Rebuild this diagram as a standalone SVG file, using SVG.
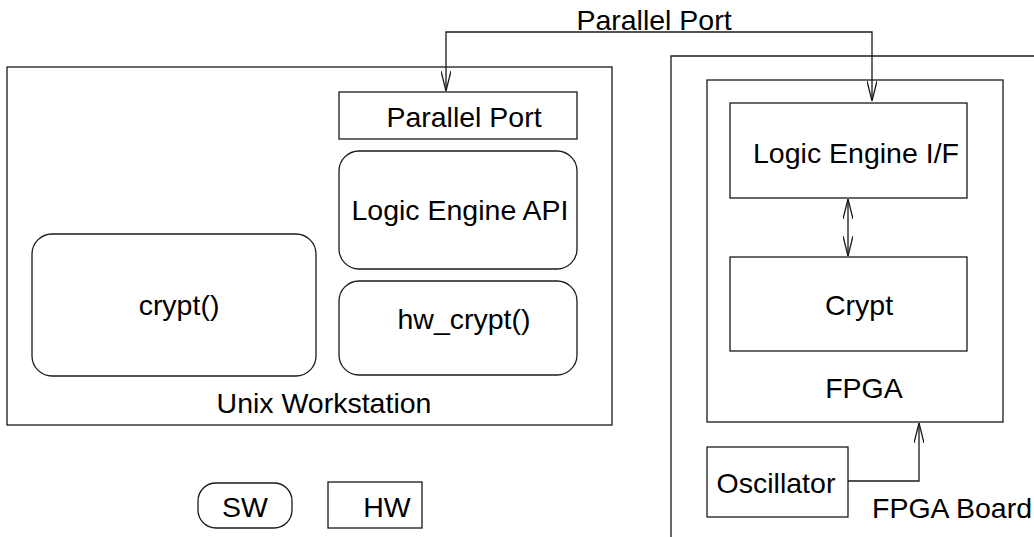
<svg xmlns="http://www.w3.org/2000/svg" width="1034" height="537" viewBox="0 0 1034 537">
  <style>
    .box { fill: none; stroke: #1a1a1a; stroke-width: 1.3; }
    .wire { fill: none; stroke: #1a1a1a; stroke-width: 1.3; }
    .lbl { font-family: "Liberation Sans", Arial, sans-serif; font-size: 28.5px; fill: #000; text-anchor: middle; }
  </style>
  <defs>
    <marker id="vhead" viewBox="0 0 20 10" markerWidth="20" markerHeight="10" refX="20" refY="5" orient="auto-start-reverse" markerUnits="userSpaceOnUse">
      <path d="M0,0 L20,5 L0,10" fill="none" stroke="#1a1a1a" stroke-width="1.3"/>
    </marker>
  </defs>

  <rect width="1034" height="537" fill="#fff"/>

  <!-- Workstation side -->
  <g id="unix-workstation">
    <rect class="box" x="7" y="67" width="605" height="358"/>
    <text class="lbl" x="324" y="413">Unix Workstation</text>
  </g>
  <g id="parallel-port-sw">
    <rect class="box" x="339" y="92" width="238" height="47"/>
    <text class="lbl" x="464" y="127">Parallel Port</text>
  </g>
  <g id="logic-engine-api">
    <rect class="box" x="339" y="151" width="238" height="118" rx="20" ry="20"/>
    <text class="lbl" x="460" y="220">Logic Engine API</text>
  </g>
  <g id="hw-crypt">
    <rect class="box" x="339" y="281" width="238" height="94" rx="20" ry="20"/>
    <text class="lbl" x="464" y="329">hw_crypt()</text>
  </g>
  <g id="crypt-sw">
    <rect class="box" x="32" y="234" width="284" height="142" rx="20" ry="20"/>
    <text class="lbl" x="179" y="315">crypt()</text>
  </g>

  <!-- Legend -->
  <g id="legend-sw">
    <rect class="box" x="198" y="483" width="94" height="45" rx="18" ry="18"/>
    <text class="lbl" x="245" y="517">SW</text>
  </g>
  <g id="legend-hw">
    <rect class="box" x="328" y="482" width="94" height="46"/>
    <text class="lbl" x="387" y="517">HW</text>
  </g>

  <!-- Board side -->
  <g id="fpga-board">
    <path class="box" d="M671,537 L671,56 L1034,56"/>
    <text class="lbl" x="952" y="518">FPGA Board</text>
  </g>
  <g id="fpga">
    <rect class="box" x="707" y="80" width="296" height="342"/>
    <text class="lbl" x="864" y="398">FPGA</text>
  </g>
  <g id="logic-engine-if">
    <rect class="box" x="730" y="103" width="237" height="95"/>
    <text class="lbl" x="856" y="163">Logic Engine I/F</text>
  </g>
  <g id="crypt-hw">
    <rect class="box" x="730" y="257" width="237" height="94"/>
    <text class="lbl" x="859" y="315">Crypt</text>
  </g>
  <g id="oscillator">
    <rect class="box" x="707" y="447" width="141" height="70"/>
    <text class="lbl" x="776" y="493">Oscillator</text>
  </g>

  <!-- Connectors -->
  <g id="connectors">
    <path class="wire" d="M446,91 L446,32 L872,32 L872,101" marker-start="url(#vhead)" marker-end="url(#vhead)"/>
    <text class="lbl" x="654" y="30">Parallel Port</text>
    <path class="wire" d="M848,199 L848,256" marker-start="url(#vhead)" marker-end="url(#vhead)"/>
    <path class="wire" d="M848,481 L919,481 L919,423" marker-end="url(#vhead)"/>
  </g>
</svg>
